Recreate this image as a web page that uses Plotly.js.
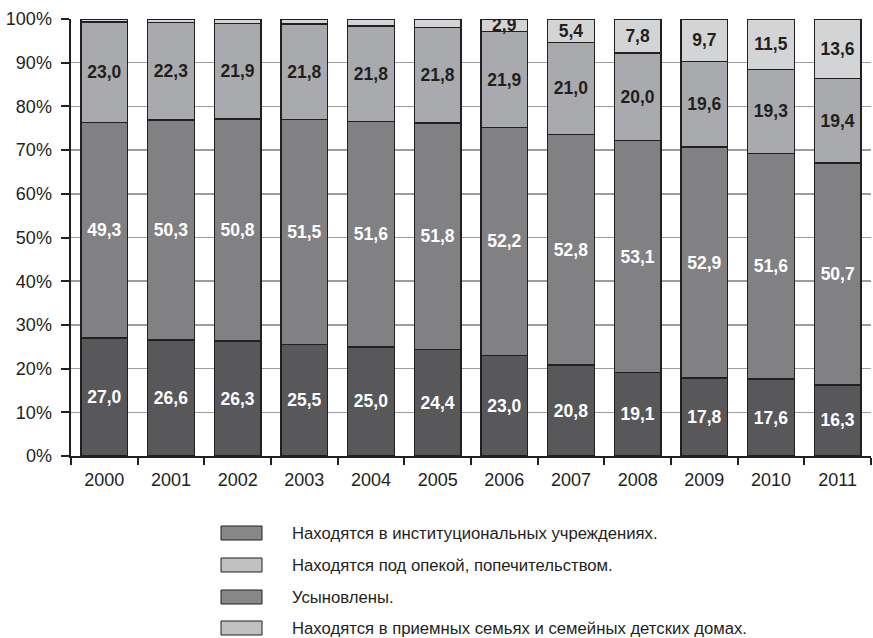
<!DOCTYPE html>
<html>
<head>
<meta charset="utf-8">
<script src="https://cdn.plot.ly/plotly-3.0.1.min.js"></script>
<style>html,body{margin:0;padding:0;background:#fff;}#chart{width:873px;height:638px;}</style>
</head>
<body>
<div id="chart"></div>
<script>
const years = ['2000','2001','2002','2003','2004','2005','2006','2007','2008','2009','2010','2011'];
const institutions = [27.0, 26.6, 26.3, 25.5, 25.0, 24.4, 23.0, 20.8, 19.1, 17.8, 17.6, 16.3];
const guardianship = [49.3, 50.3, 50.8, 51.5, 51.6, 51.8, 52.2, 52.8, 53.1, 52.9, 51.6, 50.7];
const adopted = [23.0, 22.3, 21.9, 21.8, 21.8, 21.8, 21.9, 21.0, 20.0, 19.6, 19.3, 19.4];
const fosterFamilies = [0.7, 0.8, 1.0, 1.2, 1.6, 2.0, 2.9, 5.4, 7.8, 9.7, 11.5, 13.6];
const fosterLabelled = [false, false, false, false, false, false, true, true, true, true, true, true];
const yTicks = [0, 10, 20, 30, 40, 50, 60, 70, 80, 90, 100];
const legendNames = [
  'Находятся в институциональных учреждениях.',
  'Находятся под опекой, попечительством.',
  'Усыновлены.',
  'Находятся в приемных семьях и семейных детских домах.'
];

const FONT = '"Liberation Sans Narrow", "Arial Narrow", "Liberation Sans", Arial, sans-serif';
const fmt = v => v.toFixed(1).replace('.', ',');
const barColors = ['#58585b', '#818184', '#a9aaad', '#d3d4d6'];
const legendColors = ['#88888b', '#c0c1c3', '#88888b', '#c0c1c3'];
const textColors = ['#ffffff', '#ffffff', '#231f20', '#231f20'];

const series = [institutions, guardianship, adopted, fosterFamilies];
const traces = series.map((vals, i) => ({
  type: 'bar',
  x: years,
  y: vals,
  name: legendNames[i],
  text: vals.map((v, j) => (i === 3 && !fosterLabelled[j]) ? '' : fmt(v)),
  textposition: 'inside',
  insidetextanchor: 'middle',
  textangle: 0,
  constraintext: 'none',
  textfont: {family: FONT, size: 17.5, color: textColors[i], weight: 'bold'},
  marker: {color: barColors[i], line: {color: '#231f20', width: 1.5}},
  hoverinfo: 'skip',
  showlegend: false
}));

// legend drawn as shapes + annotations (pixel -> paper conversion)
const L = 71, T = 19, W = 800, H = 437;
const px = X => (X - L) / W;
const py = Y => (T + H - Y) / H;
const legendY = [533, 565, 597, 628];
const shapes = [], annotations = [];
legendNames.forEach((n, i) => {
  shapes.push({type: 'rect', xref: 'paper', yref: 'paper',
    x0: px(221), x1: px(262), y0: py(legendY[i] + 7), y1: py(legendY[i] - 7),
    fillcolor: legendColors[i], line: {color: '#231f20', width: 1}});
  annotations.push({xref: 'paper', yref: 'paper', x: px(290), y: py(legendY[i]),
    xanchor: 'left', yanchor: 'middle', text: n, showarrow: false,
    font: {family: FONT, size: 16.7, color: '#231f20'}});
});

const layout = {
  width: 873, height: 638,
  margin: {l: L, r: 873 - L - W, t: T, b: 638 - T - H, pad: 0},
  paper_bgcolor: '#ffffff', plot_bgcolor: '#ffffff',
  barmode: 'stack', bargap: 0.3,
  showlegend: false,
  font: {family: FONT, color: '#231f20'},
  xaxis: {
    type: 'category', range: [-0.5, 11.5],
    showline: true, linecolor: '#231f20', linewidth: 2,
    ticks: 'outside', tickson: 'boundaries', ticklen: 7, tickwidth: 2, tickcolor: '#231f20',
    ticklabelstandoff: 6,
    tickfont: {family: FONT, size: 18, color: '#231f20'},
    showgrid: false, zeroline: false, fixedrange: true
  },
  yaxis: {
    range: [0, 100], tickvals: yTicks, ticktext: yTicks.map(v => v + '%'),
    showline: true, linecolor: '#231f20', linewidth: 2.5,
    ticks: 'outside', ticklen: 8, tickwidth: 2, tickcolor: '#231f20',
    ticklabelstandoff: 5,
    tickfont: {family: FONT, size: 18, color: '#231f20'},
    showgrid: true, gridcolor: '#9d9d9d', gridwidth: 1.5,
    zeroline: false, fixedrange: true
  },
  shapes: shapes,
  annotations: annotations
};

Plotly.newPlot('chart', traces, layout, {displayModeBar: false, staticPlot: true});
</script>
</body>
</html>
